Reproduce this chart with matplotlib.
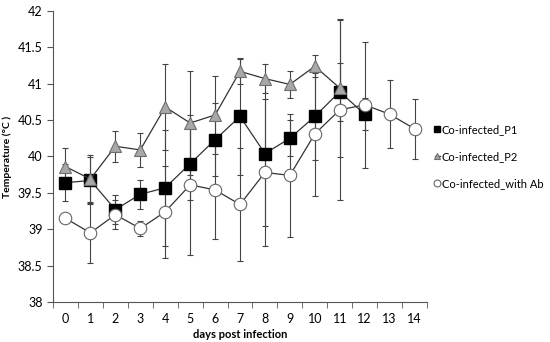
import matplotlib
matplotlib.use("Agg")
import matplotlib.pyplot as plt
import numpy as np

days = list(range(15))
p1_mean = [39.64, 39.67, 39.27, 39.48, 39.57, 39.90, 40.23, 40.55, 40.04, 40.25, 40.55, 40.89, 40.58]
p1_err  = [0.25, 0.32, 0.20, 0.20, 0.80, 0.50, 0.50, 0.80, 1.00, 0.25, 0.60, 0.40, 0.22]
p2_mean = [39.86, 39.69, 40.14, 40.09, 40.68, 40.46, 40.57, 41.17, 41.07, 40.99, 41.24, 40.94]
p2_err  = [0.26, 0.33, 0.21, 0.23, 0.59, 0.71, 0.53, 0.17, 0.20, 0.18, 0.15, 0.95]
ab_mean = [39.15, 38.95, 39.20, 39.01, 39.24, 39.61, 39.54, 39.34, 39.78, 39.74, 40.31, 40.64, 40.71, 40.58, 40.38]
ab_err  = [0.05, 0.42, 0.20, 0.10, 0.63, 0.96, 0.67, 0.77, 1.01, 0.85, 0.85, 1.24, 0.87, 0.47, 0.41]
labels = ["Co-infected_P1", "Co-infected_P2", "Co-infected_with Ab"]
yticks = [38, 38.5, 39, 39.5, 40, 40.5, 41, 41.5, 42]

plt.rcParams['font.family'] = ['Lato', 'DejaVu Sans']
fig = plt.figure(figsize=(5.5, 3.42), dpi=100)
ax = fig.add_axes([0.0964, 0.117, 0.680, 0.851])

lc = '#333333'
ekw = dict(ecolor='#444444', elinewidth=0.8, capsize=2, capthick=0.8)
ax.errorbar(days[:len(p1_mean)], p1_mean, yerr=p1_err, color=lc, lw=0.9,
            marker='s', ms=8.5, mfc='black', mec='black', label=labels[0], **ekw)
ax.errorbar(days[:len(p2_mean)], p2_mean, yerr=p2_err, color=lc, lw=0.9,
            marker='^', ms=9, mfc='#a8a8a8', mec='#6e6e6e', mew=0.8, label=labels[1], **ekw)
ax.errorbar(days[:len(ab_mean)], ab_mean, yerr=ab_err, color=lc, lw=0.9,
            marker='o', ms=9, mfc='white', mec='#666666', mew=0.8, label=labels[2], **ekw)

ax.set_xlim(-0.5, 14.5)
ax.set_ylim(38, 42)
ax.set_yticks(yticks)
ax.set_yticklabels([f"{t:g}" for t in yticks])
ax.set_xticks(days)
ax.set_xticks(np.arange(-0.5, 15, 1), minor=True)
ax.tick_params(axis='x', which='major', length=0, labelsize=9, pad=8)
ax.tick_params(axis='x', which='minor', length=4, direction='out', color='#555555')
ax.tick_params(axis='y', length=4, direction='out', labelsize=9, color='#555555')
for s in ['top', 'right']:
    ax.spines[s].set_visible(False)
for s in ['left', 'bottom']:
    ax.spines[s].set_color('#555555')
    ax.spines[s].set_linewidth(0.8)

ax.set_xlabel("days post infection", fontsize=8, fontweight='bold', labelpad=3)
ax.set_ylabel("Temperature (°C )", fontsize=7.5, fontweight='bold', labelpad=4)

h, l = ax.get_legend_handles_labels()
h = [hh[0] for hh in h]
leg = fig.legend(h, l, loc='upper left', bbox_to_anchor=(0.79, 0.637), frameon=False,
                 fontsize=8, handlelength=0.5, handletextpad=0.15, labelspacing=1.45,
                 markerscale=0.55, borderaxespad=0, borderpad=0)
fig.savefig("out.png", dpi=100)
